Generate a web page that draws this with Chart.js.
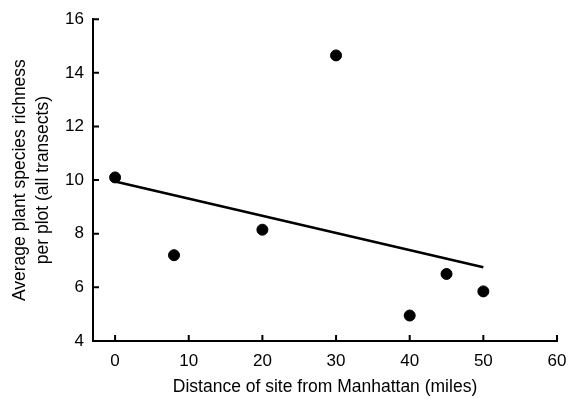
<!DOCTYPE html>
<html>
<head>
<meta charset="utf-8">
<script src="https://cdn.jsdelivr.net/npm/chart.js@4/dist/chart.umd.min.js"></script>
<style>
  html, body { margin: 0; padding: 0; background: #fff; }
  #wrap { width: 572px; height: 406px; }
</style>
</head>
<body>
<div id="wrap"><canvas id="myChart"></canvas></div>
<script>
// site distances (miles) and richness values
const distance = [0, 8, 20, 30, 40, 45, 50]
const richness = [10.1, 7.2, 8.15, 14.65, 4.95, 6.5, 5.85]
// fitted trend line, its two ends
const trendX = [0, 50]
const trendY = [9.95, 6.75]
const xTicks = [0, 10, 20, 30, 40, 50, 60]
const yTicks = [4, 6, 8, 10, 12, 14, 16]

const tickFont = { family: 'Liberation Sans, Arial, sans-serif', size: 17 }
const titleFont = { family: 'Liberation Sans, Arial, sans-serif', size: 17.5, lineHeight: 1.35 }

// ticks that point into the plot instead of outward
const innerTicks = {
    id: 'innerTicks',
    afterDraw(chart) {
        const ctx = chart.ctx
        const x = chart.scales.x, y = chart.scales.y
        const area = chart.chartArea
        ctx.save()
        ctx.strokeStyle = '#000'
        ctx.lineWidth = 2
        ctx.beginPath()
        x.ticks.forEach(t => {
            const px = x.getPixelForValue(t.value)
            ctx.moveTo(px, area.bottom)
            ctx.lineTo(px, area.bottom - 6)
        })
        y.ticks.forEach(t => {
            const py = y.getPixelForValue(t.value)
            ctx.moveTo(area.left, py)
            ctx.lineTo(area.left + 6, py)
        })
        ctx.stroke()
        ctx.restore()
    }
}

const myChart = new Chart(document.getElementById('myChart'), {
    type: 'scatter',
    data: {
        datasets: [{
            data: distance.map((d, i) => ({ x: d, y: richness[i] })),
            backgroundColor: '#000',
            borderColor: '#000',
            pointRadius: 5.5,
            pointHoverRadius: 5.5
        }, {
            type: 'line',
            data: trendX.map((d, i) => ({ x: d, y: trendY[i] })),
            borderColor: '#000',
            borderWidth: 2.5,
            pointRadius: 0,
            fill: false
        }]
    },
    plugins: [innerTicks],
    options: {
        responsive: true,
        maintainAspectRatio: false,
        animation: false,
        layout: { padding: { left: 0, right: 15, top: 17, bottom: 0 } },
        plugins: {
            legend: { display: false },
            tooltip: { enabled: false }
        },
        scales: {
            x: {
                type: 'linear',
                min: -3,
                max: 60,
                afterBuildTicks: s => { s.ticks = xTicks.map(v => ({ value: v })) },
                afterFit: s => { s.height = 65; s.paddingLeft = 0; s.paddingRight = 0 },
                border: { color: '#000', width: 2 },
                grid: { display: false, drawTicks: false },
                ticks: { color: '#000', font: tickFont, padding: 10 },
                title: {
                    display: true,
                    text: 'Distance of site from Manhattan (miles)',
                    color: '#000',
                    font: titleFont,
                    padding: { top: 10, bottom: 7 }
                }
            },
            y: {
                min: 4,
                max: 16,
                afterBuildTicks: s => { s.ticks = yTicks.map(v => ({ value: v })) },
                afterFit: s => { s.width = 93 },
                border: { color: '#000', width: 2 },
                grid: { display: false, drawTicks: false },
                ticks: { color: '#000', font: tickFont, padding: 9 },
                title: {
                    display: true,
                    text: ['Average plant species richness', 'per plot (all transects)'],
                    color: '#000',
                    font: titleFont,
                    padding: { top: 8, bottom: 0 }
                }
            }
        }
    }
})
</script>
</body>
</html>
